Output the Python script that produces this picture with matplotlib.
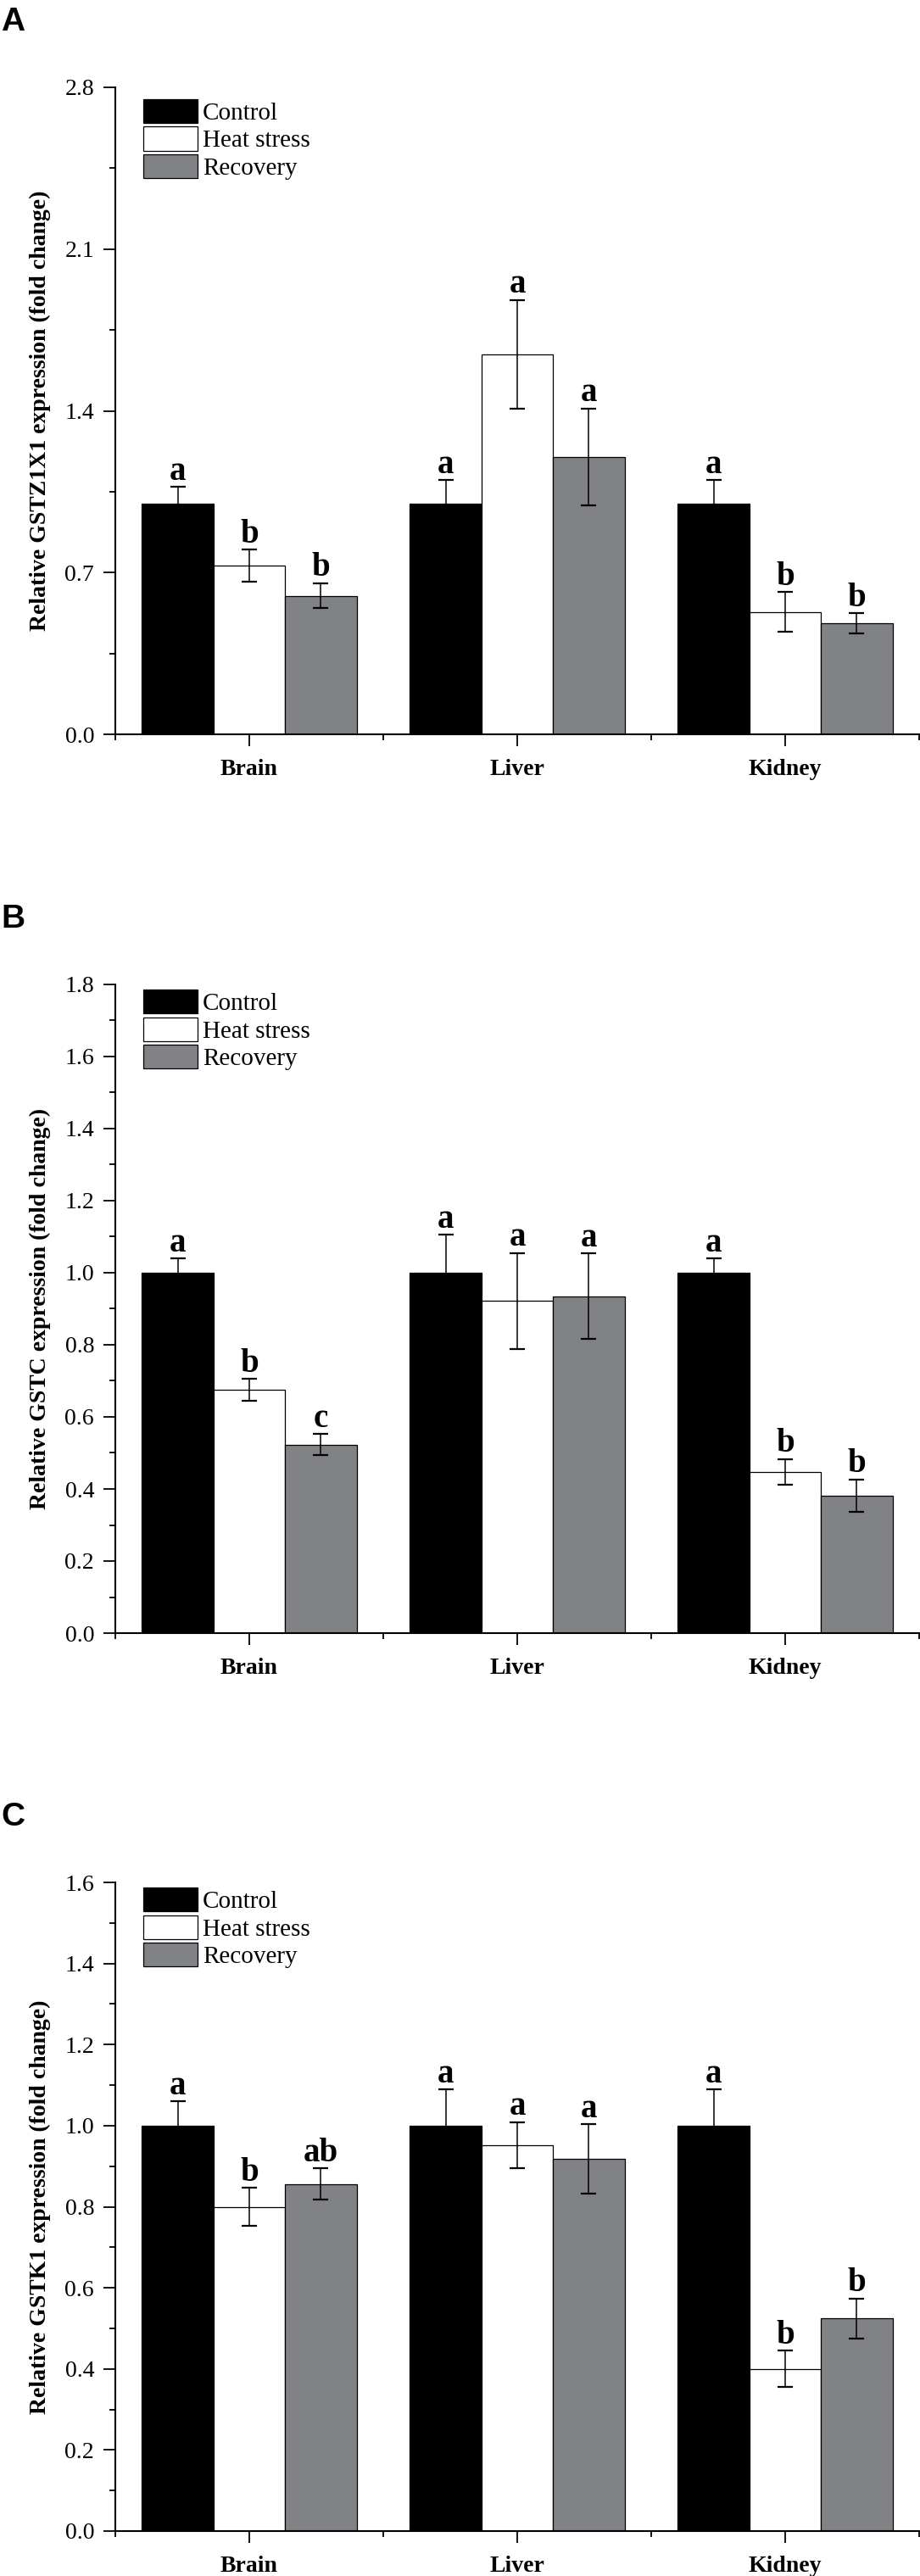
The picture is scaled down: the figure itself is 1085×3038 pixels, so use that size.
import matplotlib
matplotlib.use('Agg')
import matplotlib.pyplot as plt
from matplotlib.ticker import MultipleLocator, FormatStrFormatter, FixedLocator
import numpy as np

CATEGORIES = ['Brain', 'Liver', 'Kidney']
GROUPS = ['Control', 'Heat stress', 'Recovery']
PANEL_LETTERS = ['A', 'B', 'C']

# panel A: GSTZ1X1
GSTZ1X1_MEAN = [[1.0, 1.0, 1.0], [0.73, 1.645, 0.53], [0.60, 1.20, 0.48]]
GSTZ1X1_ERR = [[0.07, 0.10, 0.10], [0.07, 0.235, 0.085], [0.055, 0.21, 0.045]]
GSTZ1X1_SIG = [['a', 'a', 'a'], ['b', 'a', 'b'], ['b', 'a', 'b']]

# panel B: GSTC
GSTC_MEAN = [[1.0, 1.0, 1.0], [0.675, 0.922, 0.447], [0.523, 0.935, 0.382]]
GSTC_ERR = [[0.04, 0.105, 0.04], [0.03, 0.133, 0.036], [0.03, 0.118, 0.045]]
GSTC_SIG = [['a', 'a', 'a'], ['b', 'a', 'b'], ['c', 'a', 'b']]

# panel C: GSTK1
GSTK1_MEAN = [[1.0, 1.0, 1.0], [0.80, 0.952, 0.40], [0.856, 0.918, 0.524]]
GSTK1_ERR = [[0.06, 0.09, 0.09], [0.047, 0.057, 0.045], [0.039, 0.086, 0.05]]
GSTK1_SIG = [['a', 'a', 'a'], ['b', 'a', 'b'], ['ab', 'a', 'b']]

Y_LABELS = ['Relative GSTZ1X1 expression (fold change)',
            'Relative GSTC expression (fold change)',
            'Relative GSTK1 expression (fold change)']
Y_MAX = [2.8, 1.8, 1.6]
Y_MAJOR = [0.7, 0.2, 0.2]
Y_MINOR = [0.35, 0.1, 0.1]

BAR_COLORS = ['#000000', '#ffffff', '#818286']
BAR_WIDTH = 0.267

FIG_W, FIG_H = 1085, 3038
# axes boxes in pixels: left, top, right, bottom
PANEL_BOXES = [(136, 103, 1084, 866), (136, 1161, 1084, 1926), (136, 2220, 1084, 2985)]
LEGEND_TOP = [0.982, 0.992, 0.992]

plt.rcParams['font.family'] = ['Liberation Serif', 'DejaVu Serif']


def draw_panel(fig, idx, means, errs, sigs):
    left, top, right, bottom = PANEL_BOXES[idx]
    ax = fig.add_axes([left / FIG_W, 1 - bottom / FIG_H,
                       (right - left) / FIG_W, (bottom - top) / FIG_H])

    centers = np.arange(1, len(CATEGORIES) + 1)
    for g, group in enumerate(GROUPS):
        xs = centers + (g - 1) * BAR_WIDTH
        ax.bar(xs, means[g], width=BAR_WIDTH, color=BAR_COLORS[g],
               edgecolor='black', linewidth=0.9, label=group, zorder=2)
        ax.errorbar(xs, means[g], yerr=errs[g], fmt='none', ecolor='black',
                    elinewidth=1.1, capsize=6.5, capthick=1.6, zorder=3)
        for x, m, e, s in zip(xs, means[g], errs[g], sigs[g]):
            ax.annotate(s, xy=(x, m + e), xytext=(0, 6), textcoords='offset points',
                        ha='center', va='baseline', fontsize=28, fontweight='bold')

    ax.set_xlim(0.5, len(CATEGORIES) + 0.5)
    ax.set_ylim(0, Y_MAX[idx])
    ax.set_xticks(centers)
    ax.set_xticklabels(CATEGORIES, fontsize=20, fontweight='bold')
    ax.xaxis.set_minor_locator(FixedLocator([0.5, 1.5, 2.5, 3.5]))
    ax.yaxis.set_major_locator(MultipleLocator(Y_MAJOR[idx]))
    ax.yaxis.set_minor_locator(MultipleLocator(Y_MINOR[idx]))
    ax.yaxis.set_major_formatter(FormatStrFormatter('%.1f'))

    for side in ('top', 'right'):
        ax.spines[side].set_visible(False)
    for side in ('left', 'bottom'):
        ax.spines[side].set_linewidth(1.5)

    ax.tick_params(axis='x', which='major', direction='out', length=10, width=1.3, pad=11)
    ax.tick_params(axis='x', which='minor', direction='out', length=5, width=1.3)
    ax.tick_params(axis='y', which='major', direction='out', length=10, width=1.3,
                   pad=8, labelsize=20)
    ax.tick_params(axis='y', which='minor', direction='out', length=5, width=1.3)

    ax.set_ylabel(Y_LABELS[idx], fontsize=20, fontweight='bold')
    ax.yaxis.set_label_coords(-0.08, 0.5)

    ax.legend(loc='upper left', bbox_to_anchor=(0.035, LEGEND_TOP[idx]),
              frameon=False, fontsize=21, handlelength=2.2, handleheight=1.12,
              handletextpad=0.2, labelspacing=0.08, borderpad=0, borderaxespad=0)

    fig.text(0.001, 1 - (top - 95) / FIG_H, PANEL_LETTERS[idx], ha='left', va='top',
             fontsize=28, fontweight='bold', family=['Liberation Sans', 'DejaVu Sans'])
    return ax


def main():
    fig = plt.figure(figsize=(FIG_W / 100, FIG_H / 100), dpi=100)
    draw_panel(fig, 0, GSTZ1X1_MEAN, GSTZ1X1_ERR, GSTZ1X1_SIG)
    draw_panel(fig, 1, GSTC_MEAN, GSTC_ERR, GSTC_SIG)
    draw_panel(fig, 2, GSTK1_MEAN, GSTK1_ERR, GSTK1_SIG)
    fig.savefig('out.png', dpi=100)
    print('[+] Plot saved to out.png')


if __name__ == '__main__':
    main()
